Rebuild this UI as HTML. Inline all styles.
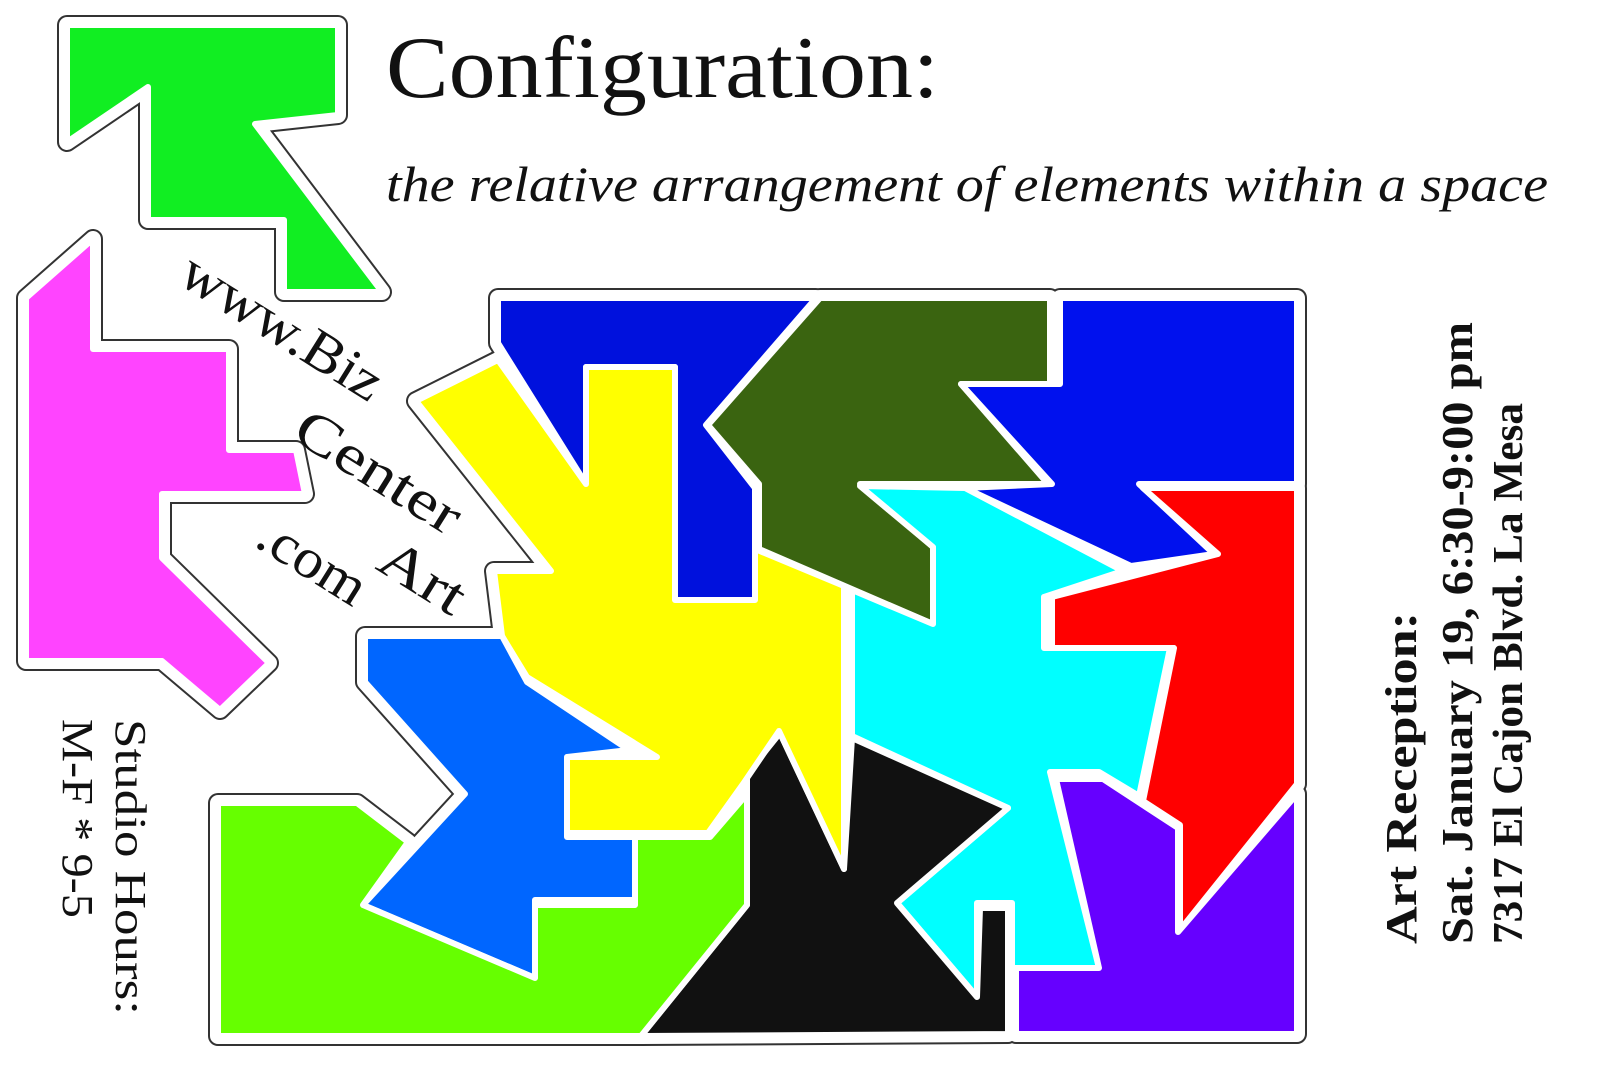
<!DOCTYPE html>
<html><head><meta charset="utf-8"><style>
html,body{margin:0;padding:0;background:#fff;}
svg{display:block;}
</style></head><body>
<svg width="1600" height="1078" viewBox="0 0 1600 1078" xmlns="http://www.w3.org/2000/svg">
<defs>
<g id="gA">
<polygon points="67,25 338,25 338,115 255,124 382,292 284,292 284,220 148,220 148,87 67,142"/>
</g>
<g id="gB">
<polygon points="26,298 93,239 93,349 229,349 229,450 296,450 305,494 162,494 162,558 269,663 220,710 162,661 26,661"/>
</g>
<g id="gC">
<polygon points="498,298 816,298 706,425 755,488 755,600 675,600 675,367 586,367 586,484 498,343"/>
<polygon points="820,298 1050,298 1050,384 961,384 1048,484 860,484 933,547 933,624 759,549 759,484 708,425"/>
<polygon points="1060,298 1297,298 1297,484 1139,484 1214,554 1131,566 965,488 1052,484 961,384 1060,384"/>
<polygon points="1143,488 1297,488 1297,784 1180,930 1180,825 1143,801 1174,648 1052,648 1052,597 1218,554"/>
<polygon points="860,486 965,488 1123,571 1044,597 1044,648 1170,648 1139,796 1099,772 1050,772 1099,968 1012,968 1012,903 977,903 977,997 897,903 1008,808 852,736 852,590 933,624 933,547"/>
<polygon points="1056,779 1103,779 1178,828 1178,932 1297,794 1297,1034 1016,1034 1016,968 1099,968"/>
<polygon points="780,733 844,869 852,738 1008,808 897,903 977,997 980,908 1008,908 1008,1034 641,1036 747,905 747,774"/>
<polygon points="416,401 498,360 586,484 586,367 675,367 675,600 755,600 755,549 844,586 844,869 779,731 743,784 708,833 567,833 567,757 657,757 527,677 502,636 494,571 551,571"/>
<polygon points="365,636 502,636 527,682 629,750 567,757 567,837 635,837 635,900 535,900 535,978 363,905 465,794 365,682"/>
<polygon points="218,803 357,803 408,842 363,905 535,978 535,905 635,905 635,837 710,837 747,794 747,905 641,1036 218,1036"/>
</g>
</defs>
<!-- outlines -->
<g stroke="#333" stroke-width="20" stroke-linejoin="round" fill="#333">
<use href="#gA"/><use href="#gB"/><use href="#gC"/>
</g>
<g stroke="#fff" stroke-width="16" stroke-linejoin="round" fill="#fff">
<use href="#gA"/><use href="#gB"/><use href="#gC"/>
</g>
<g stroke="#fff" stroke-width="6" stroke-linejoin="round">
<polygon fill="#11ee22" points="67,25 338,25 338,115 255,124 382,292 284,292 284,220 148,220 148,87 67,142"/>
<polygon fill="#ff44ff" points="26,298 93,239 93,349 229,349 229,450 296,450 305,494 162,494 162,558 269,663 220,710 162,661 26,661"/>
<polygon fill="#0011dd" points="498,298 816,298 706,425 755,488 755,600 675,600 675,367 586,367 586,484 498,343"/>
<polygon fill="#3a6410" points="820,298 1050,298 1050,384 961,384 1048,484 860,484 933,547 933,624 759,549 759,484 708,425"/>
<polygon fill="#0011ee" points="1060,298 1297,298 1297,484 1139,484 1214,554 1131,566 965,488 1052,484 961,384 1060,384"/>
<polygon fill="#ff0000" points="1143,488 1297,488 1297,784 1180,930 1180,825 1143,801 1174,648 1052,648 1052,597 1218,554"/>
<polygon fill="#00ffff" points="860,486 965,488 1123,571 1044,597 1044,648 1170,648 1139,796 1099,772 1050,772 1099,968 1012,968 1012,903 977,903 977,997 897,903 1008,808 852,736 852,590 933,624 933,547"/>
<polygon fill="#6600ff" points="1056,779 1103,779 1178,828 1178,932 1297,794 1297,1034 1016,1034 1016,968 1099,968"/>
<polygon fill="#111111" points="780,733 844,869 852,738 1008,808 897,903 977,997 980,908 1008,908 1008,1034 641,1036 747,905 747,774"/>
<polygon fill="#ffff00" points="416,401 498,360 586,484 586,367 675,367 675,600 755,600 755,549 844,586 844,869 779,731 743,784 708,833 567,833 567,757 657,757 527,677 502,636 494,571 551,571"/>
<polygon fill="#0066ff" points="365,636 502,636 527,682 629,750 567,757 567,837 635,837 635,900 535,900 535,978 363,905 465,794 365,682"/>
<polygon fill="#66ff00" points="218,803 357,803 408,842 363,905 535,978 535,905 635,905 635,837 710,837 747,794 747,905 641,1036 218,1036"/>
</g>

<g font-family="Liberation Serif, serif" fill="#111">
<text x="386" y="97" font-size="88" textLength="553" lengthAdjust="spacingAndGlyphs">Configuration:</text>
<text x="386" y="201" font-size="50" font-style="italic" textLength="1162" lengthAdjust="spacingAndGlyphs">the relative arrangement of elements within a space</text>

<text transform="translate(176,282) rotate(32)" font-size="56" textLength="228" lengthAdjust="spacingAndGlyphs">www.Biz</text>
<text transform="translate(290,438) rotate(32)" font-size="56" textLength="186" lengthAdjust="spacingAndGlyphs">Center</text>
<text transform="translate(253,545) rotate(32)" font-size="56" textLength="118" lengthAdjust="spacingAndGlyphs">.com</text>
<text transform="translate(374,568) rotate(32)" font-size="56" textLength="92" lengthAdjust="spacingAndGlyphs">Art</text>

<text transform="translate(1416,944) rotate(-90)" font-size="44" font-weight="bold" textLength="332" lengthAdjust="spacingAndGlyphs">Art Reception:</text>
<text transform="translate(1472,944) rotate(-90)" font-size="44" font-weight="bold" textLength="622" lengthAdjust="spacingAndGlyphs">Sat.  January 19, 6:30-9:00 pm</text>
<text transform="translate(1522,944) rotate(-90)" font-size="42" font-weight="bold" textLength="541" lengthAdjust="spacingAndGlyphs">7317 El Cajon Blvd. La Mesa</text>

<text transform="translate(116,719) rotate(90)" font-size="44" textLength="296" lengthAdjust="spacingAndGlyphs">Studio Hours:</text>
<text transform="translate(63,719) rotate(90)" font-size="44" textLength="199" lengthAdjust="spacingAndGlyphs">M-F * 9-5</text>
</g>
</svg>
</body></html>
